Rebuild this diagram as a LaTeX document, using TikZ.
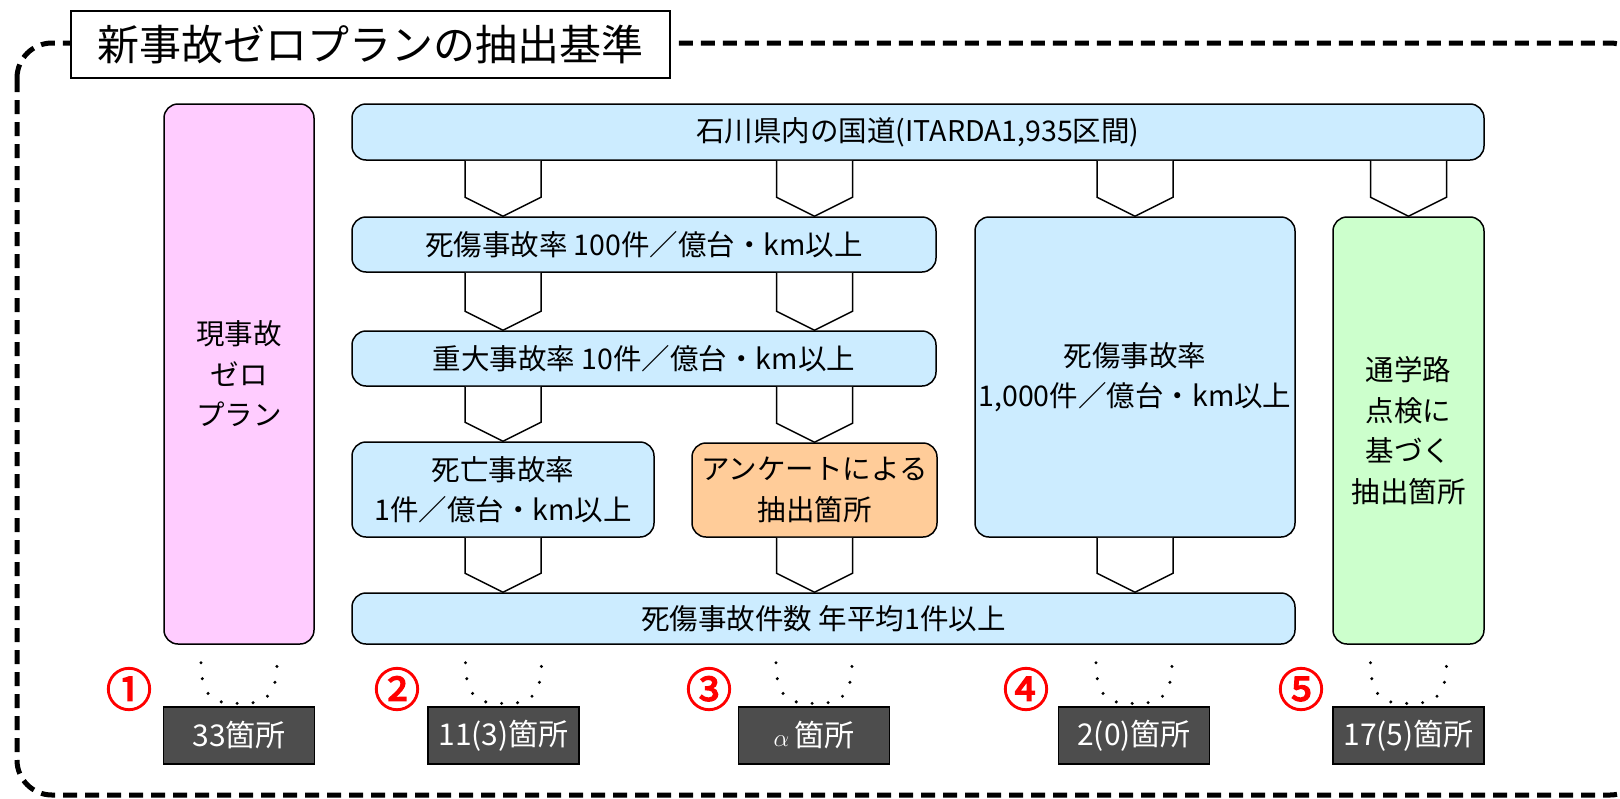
\documentclass[tikz,border=0pt]{standalone}
\usepackage{fontspec}
\setmainfont{Noto Sans CJK JP}
\newfontfamily\numfont[FakeBold=3]{Noto Sans CJK JP}
\usetikzlibrary{calc}
\definecolor{lblue}{RGB}{204,236,255}
\definecolor{lpink}{RGB}{255,204,255}
\definecolor{lorange}{RGB}{255,204,153}
\definecolor{lgreen}{RGB}{204,255,204}
\definecolor{dgray}{RGB}{77,77,77}
\newcommand\mychev[3]{\filldraw[chevsty] let \p1=(#1.south -| #3), \p2=(#2.north -| #3) in
  (\x1-38pt,\y1) -- (\x1-38pt,\y2+19pt) -- (\x1,\y2) -- (\x1+38pt,\y2+19pt) -- (\x1+38pt,\y1);}
\newcommand\mydots[2]{\draw[dotsty] let \p1=(#1.south -| #2.north), \p2=(#2.north) in
  (\x1-38pt,\y1-18pt) .. controls (\x1-38pt,\y2+4pt) and (\x1-20pt,\y2+3pt) .. (\x1,\y2+3pt)
  .. controls (\x1+20pt,\y2+3pt) and (\x1+38pt,\y2+4pt) .. (\x1+38pt,\y1-18pt);}
\begin{document}
\begin{tikzpicture}[x=1pt,y=-1pt,
  box/.style={draw=black, line width=1.5pt, rounded corners=14pt, align=center, inner sep=0pt,
    font=\fontsize{28.5}{40.5}\selectfont},
  bluebox/.style={box, fill=lblue},
  countbox/.style={draw=black, line width=1.2pt, fill=dgray, text=white, minimum width=151pt,
    minimum height=57pt, inner sep=0pt, font=\fontsize{30}{30}\selectfont},
  titlesty/.style={draw=black, line width=1.5pt, fill=white, inner sep=0pt,
    font=\fontsize{42}{42}\selectfont},
  chevsty/.style={draw=black, fill=white, line width=1.5pt},
  dotsty/.style={line width=3.4pt, line cap=round, dash pattern=on 0pt off 16pt},
  numsty/.style={text=red, font=\numfont\fontsize{46}{46}\selectfont, inner sep=0pt},
  framesty/.style={line width=5pt, dash pattern=on 14pt off 8pt, rounded corners=35pt},
]
\useasboundingbox (0,0) rectangle (1620,798);
\clip (0,0) rectangle (1620,798);
% frame
\draw[framesty] (17,43) rectangle (1645,795);
\node[titlesty, minimum width=599pt, minimum height=67pt] (title) at (370.5,44.5) {新事故ゼロプランの抽出基準};
% columns
\coordinate (cA) at (503,0);
\coordinate (cB) at (814.5,0);
\coordinate (cC) at (1135,0);
\coordinate (cD) at (1408.5,0);
% boxes
\node[box, fill=lpink, minimum width=150pt, minimum height=540pt] (p) at (239,374) {現事故\\ゼロ\\プラン};
\node[bluebox, minimum width=1132pt, minimum height=56pt] (t) at (918,132) {石川県内の国道(ITARDA1,935区間)};
\node[bluebox, minimum width=584pt, minimum height=55pt] (r2) at (644,244.5) {死傷事故率 100件／億台・km以上};
\node[bluebox, minimum width=584pt, minimum height=55pt] (r3) at (644,358.5) {重大事故率 10件／億台・km以上};
\node[bluebox, minimum width=302pt, minimum height=95pt] (r4a) at (503,489.5) {死亡事故率\\1件／億台・km以上};
\node[box, fill=lorange, minimum width=245pt, minimum height=94pt] (r4b) at (814.5,490) {アンケートによる\\抽出箇所};
\node[bluebox, minimum width=320pt, minimum height=320pt] (big) at (1135,377) {死傷事故率\\1,000件／億台・km以上};
\node[box, fill=lgreen, minimum width=151pt, minimum height=427pt] (green) at (1408.5,430.5) {通学路\\点検に\\基づく\\抽出箇所};
\node[bluebox, minimum width=943pt, minimum height=51pt] (bar) at (823.5,618.5) {死傷事故件数 年平均1件以上};
% chevrons
\mychev{t}{r2}{cA}
\mychev{t}{r2}{cB}
\mychev{t}{big}{cC}
\mychev{t}{green}{cD}
\mychev{r2}{r3}{cA}
\mychev{r2}{r3}{cB}
\mychev{r3}{r4a}{cA}
\mychev{r3}{r4b}{cB}
\mychev{r4a}{bar}{cA}
\mychev{r4b}{bar}{cB}
\mychev{big}{bar}{cC}
% count boxes
\node[countbox] (k1) at (239,735.5) {33箇所};
\node[countbox] (k2) at (503.5,735.5) {11(3)箇所};
\node[countbox] (k3) at (814,735.5) {$\alpha$\,箇所};
\node[countbox] (k4) at (1134,735.5) {2(0)箇所};
\node[countbox] (k5) at (1408.5,735.5) {17(5)箇所};
% dotted connectors
\mydots{p}{k1}
\mydots{bar}{k2}
\mydots{bar}{k3}
\mydots{bar}{k4}
\mydots{green}{k5}
% numbers
\node[numsty] (n1) at (129,689) {①};
\node[numsty] (n2) at (397,689) {②};
\node[numsty] (n3) at (709,689) {③};
\node[numsty] (n4) at (1026,689) {④};
\node[numsty] (n5) at (1301,689) {⑤};
\end{tikzpicture}
\end{document}
